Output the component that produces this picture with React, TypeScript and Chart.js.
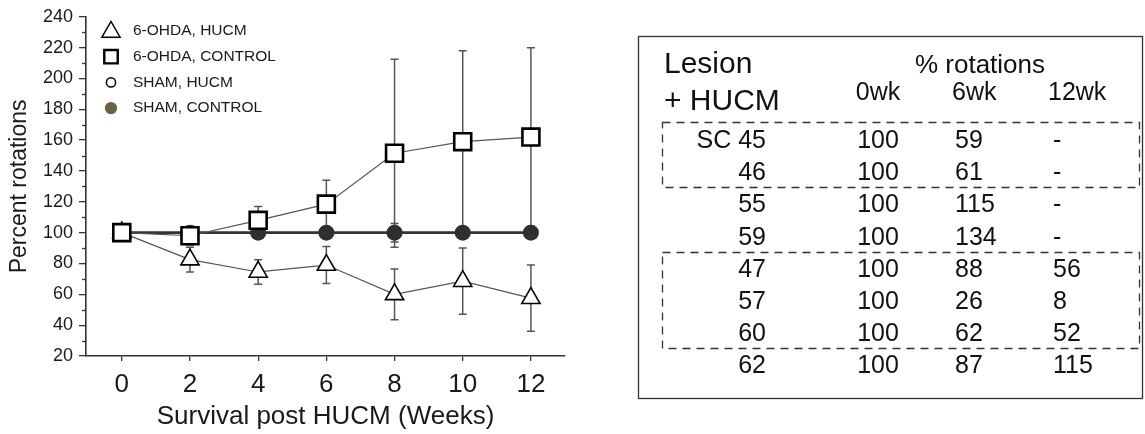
import React, { useEffect, useRef } from "react";
import { Chart, registerables } from "chart.js";

Chart.register(...registerables);

// ---------- chart data ----------
const weeks = [0, 2, 4, 6, 8, 10, 12];
const xTickValues = [0, 2, 4, 6, 8, 10, 12];
const yMinorTickValues = [30, 50, 70, 90, 110, 130, 150, 170, 190, 210, 230];

const seriesLabels = ["6-OHDA, HUCM", "6-OHDA, CONTROL", "SHAM, HUCM", "SHAM, CONTROL"];

const ohdaHucmMean = [100, 82.5, 74.5, 79, 60, 68.5, 57.5];
const ohdaHucmErr = [0, 8, 8, 12, 16.5, 21.5, 21.5];

const ohdaControlMean = [100, 98, 108, 118.5, 151.5, 159, 162];
const ohdaControlErr = [0, 6, 9, 15.5, 61, 59, 58];

const shamHucmMean = [100, 100, 100, 100, 100, 100, 100];
const shamHucmErr = [0, 2, 2, 2, 2, 2, 2];

const shamControlMean = [100, 100, 100, 100, 100, 100, 100];
const shamControlErr = [0, 2, 3, 2, 6, 2, 3];

// ---------- table data ----------
const tableTitleLeft = ["Lesion", "+ HUCM"];
const tableTitleRight = "% rotations";
const weekHeaders = ["0wk", "6wk", "12wk"];
const lesionIds = ["SC 45", "46", "55", "59", "47", "57", "60", "62"];
const rot0wk = ["100", "100", "100", "100", "100", "100", "100", "100"];
const rot6wk = ["59", "61", "115", "134", "88", "26", "62", "87"];
const rot12wk = ["-", "-", "-", "-", "56", "8", "52", "115"];

const FONT = "'Liberation Sans', Arial, Helvetica, sans-serif";

const toPts = (ys: number[]) => weeks.map((w, i) => ({ x: w, y: ys[i] }));

function drawMarker(ctx: CanvasRenderingContext2D, style: string, x: number, y: number, r: number, fill: string, stroke: string, lw: number) {
  ctx.save();
  ctx.fillStyle = fill;
  ctx.strokeStyle = stroke;
  ctx.lineWidth = lw;
  ctx.beginPath();
  if (style === "triangle") {
    ctx.moveTo(x, y - r);
    ctx.lineTo(x + r * 0.866, y + r * 0.5);
    ctx.lineTo(x - r * 0.866, y + r * 0.5);
    ctx.closePath();
  } else if (style === "rect") {
    const s = r * Math.SQRT2;
    ctx.rect(x - s / 2, y - s / 2, s, s);
  } else {
    ctx.arc(x, y, r, 0, Math.PI * 2);
  }
  ctx.fill();
  if (lw > 0) ctx.stroke();
  ctx.restore();
}

const errorBarPlugin = {
  id: "errorBars",
  beforeDatasetsDraw(chart: any) {
    const { ctx } = chart;
    const xs = chart.scales.x;
    const ys = chart.scales.y;
    chart.data.datasets.forEach((ds: any) => {
      const errs: number[] = ds.errors;
      if (!errs) return;
      ctx.save();
      ctx.strokeStyle = "#555";
      ctx.lineWidth = 1.5;
      ds.data.forEach((pt: any, j: number) => {
        const e = errs[j];
        if (!e) return;
        const px = xs.getPixelForValue(pt.x);
        const top = ys.getPixelForValue(pt.y + e);
        const bot = ys.getPixelForValue(pt.y - e);
        ctx.beginPath();
        ctx.moveTo(px, top);
        ctx.lineTo(px, bot);
        ctx.moveTo(px - 4, top);
        ctx.lineTo(px + 4, top);
        ctx.moveTo(px - 4, bot);
        ctx.lineTo(px + 4, bot);
        ctx.stroke();
      });
      ctx.restore();
    });
  },
};

const minorTickPlugin = {
  id: "minorTicks",
  afterDraw(chart: any) {
    const { ctx } = chart;
    const ys = chart.scales.y;
    ctx.save();
    ctx.strokeStyle = "#333";
    ctx.lineWidth = 1.3;
    yMinorTickValues.forEach((v) => {
      const py = Math.round(ys.getPixelForValue(v)) + 0.5;
      ctx.beginPath();
      ctx.moveTo(ys.right - 4, py);
      ctx.lineTo(ys.right, py);
      ctx.stroke();
    });
    ctx.restore();
  },
};

const legendPlugin = {
  id: "insideLegend",
  afterDraw(chart: any, _args: any, opts: any) {
    const { ctx } = chart;
    ctx.save();
    ctx.font = `15.5px ${FONT}`;
    ctx.textBaseline = "middle";
    chart.data.datasets.forEach((ds: any, i: number) => {
      const y = opts.y + i * opts.rowGap;
      const lg = ds.legendMarker;
      drawMarker(ctx, lg.style, opts.x, y + lg.dy, lg.r, lg.fill, lg.stroke, lg.lw);
      ctx.fillStyle = "#1a1a1a";
      ctx.fillText(ds.label, opts.textX, y);
    });
    ctx.restore();
  },
};

function ChartPanel() {
  const ref = useRef<HTMLCanvasElement | null>(null);
  useEffect(() => {
    if (!ref.current) return;
    const chart = new Chart(ref.current, {
      type: "line",
      data: {
        datasets: [
          {
            label: seriesLabels[0],
            data: toPts(ohdaHucmMean),
            errors: ohdaHucmErr,
            order: 1,
            borderColor: "#555",
            borderWidth: 1.2,
            pointStyle: "triangle",
            pointRadius: 10.5,
            pointBorderWidth: 1.6,
            pointBorderColor: "#000",
            pointBackgroundColor: "#fff",
            legendMarker: { style: "triangle", r: 10.5, dy: 1, fill: "#fff", stroke: "#000", lw: 1.5 },
          } as any,
          {
            label: seriesLabels[1],
            data: toPts(ohdaControlMean),
            errors: ohdaControlErr,
            order: 0,
            borderColor: "#555",
            borderWidth: 1.2,
            pointStyle: "rect",
            pointRadius: 12,
            pointBorderWidth: 2.6,
            pointBorderColor: "#000",
            pointBackgroundColor: "#fff",
            legendMarker: { style: "rect", r: 9.5, dy: 0, fill: "#fff", stroke: "#000", lw: 2.4 },
          } as any,
          {
            label: seriesLabels[2],
            data: toPts(shamHucmMean),
            errors: shamHucmErr,
            order: 3,
            borderColor: "#333",
            borderWidth: 2.5,
            pointStyle: "circle",
            pointRadius: 6,
            pointBorderWidth: 1.5,
            pointBorderColor: "#000",
            pointBackgroundColor: "#fff",
            legendMarker: { style: "circle", r: 4.6, dy: 0, fill: "#fff", stroke: "#000", lw: 1.5 },
          } as any,
          {
            label: seriesLabels[3],
            data: toPts(shamControlMean),
            errors: shamControlErr,
            order: 2,
            borderColor: "#333",
            borderWidth: 2.5,
            pointStyle: "circle",
            pointRadius: 8,
            pointBorderWidth: 0,
            pointBorderColor: "#2f2f2f",
            pointBackgroundColor: "#2f2f2f",
            legendMarker: { style: "circle", r: 6.2, dy: 0, fill: "#6b6246", stroke: "#6b6246", lw: 0 },
          } as any,
        ],
      },
      options: {
        animation: false,
        responsive: false,
        maintainAspectRatio: false,
        events: [],
        layout: { padding: { top: 15, right: 35, left: 0, bottom: 0 } },
        plugins: {
          legend: { display: false },
          tooltip: { enabled: false },
          insideLegend: { x: 111, textX: 133, y: 31, rowGap: 25.7 },
        } as any,
        scales: {
          x: {
            type: "linear",
            min: -1.05,
            max: 13,
            afterBuildTicks: (scale: any) => {
              scale.ticks = xTickValues.map((v) => ({ value: v }));
            },
            afterFit: (scale: any) => {
              scale.height = 78;
            },
            grid: { drawOnChartArea: false, tickLength: 5, color: "#333", lineWidth: 1.3 },
            border: { color: "#333", width: 1.6 },
            ticks: {
              font: { family: FONT, size: 26 },
              color: "#1a1a1a",
              padding: 8,
              autoSkip: false,
              maxRotation: 0,
            },
            title: {
              display: true,
              text: "Survival post HUCM (Weeks)",
              font: { family: FONT, size: 26 },
              color: "#1a1a1a",
              padding: { top: 0, bottom: 2 },
            },
          },
          y: {
            min: 20,
            max: 240,
            afterFit: (scale: any) => {
              scale.width = 86;
            },
            grid: { drawOnChartArea: false, tickLength: 7, color: "#333", lineWidth: 1.3 },
            border: { color: "#333", width: 1.6 },
            ticks: {
              stepSize: 20,
              font: { family: FONT, size: 18 },
              color: "#1a1a1a",
              padding: 6,
            },
            title: {
              display: true,
              text: "Percent rotations",
              font: { family: FONT, size: 23 },
              color: "#1a1a1a",
              padding: { top: 6, bottom: 0 },
            },
          },
        },
      } as any,
      plugins: [errorBarPlugin, minorTickPlugin, legendPlugin],
    });
    return () => chart.destroy();
  }, []);
  return (
    <canvas
      ref={ref}
      width={600}
      height={434}
      style={{ position: "absolute", left: 0, top: 0, width: 600, height: 434 }}
    />
  );
}

function RotationTable() {
  const rowY = (i: number) => 148 + i * 32.2;
  const txt = { fontFamily: FONT, fill: "#111" } as any;
  return (
    <svg
      width={1145}
      height={434}
      viewBox="0 0 1145 434"
      style={{ position: "absolute", left: 0, top: 0, pointerEvents: "none" }}
    >
      <rect x={638.5} y={36.5} width={504} height={362} fill="none" stroke="#333" strokeWidth={1.3} />
      <rect x={662.5} y={122.5} width={477} height={65} fill="none" stroke="#333" strokeWidth={1.3} strokeDasharray="8 6" />
      <rect x={662.5} y={252.5} width={477} height={96} fill="none" stroke="#333" strokeWidth={1.3} strokeDasharray="8 6" />
      <text x={664} y={73} fontSize={30} {...txt}>{tableTitleLeft[0]}</text>
      <text x={664} y={110} fontSize={30} {...txt}>{tableTitleLeft[1]}</text>
      <text x={980} y={73} fontSize={26} textAnchor="middle" {...txt}>{tableTitleRight}</text>
      <text x={878} y={100} fontSize={25} textAnchor="middle" {...txt}>{weekHeaders[0]}</text>
      <text x={952} y={100} fontSize={25} {...txt}>{weekHeaders[1]}</text>
      <text x={1048} y={100} fontSize={25} {...txt}>{weekHeaders[2]}</text>
      {lesionIds.map((id, i) => (
        <g key={id}>
          <text x={766} y={rowY(i)} fontSize={25} textAnchor="end" {...txt}>{id}</text>
          <text x={878} y={rowY(i)} fontSize={25} textAnchor="middle" {...txt}>{rot0wk[i]}</text>
          <text x={955} y={rowY(i)} fontSize={25} {...txt}>{rot6wk[i]}</text>
          <text x={1053} y={rowY(i)} fontSize={25} {...txt}>{rot12wk[i]}</text>
        </g>
      ))}
    </svg>
  );
}

export default function App() {
  return (
    <div
      style={{
        position: "fixed",
        left: 0,
        top: 0,
        width: 1145,
        height: 434,
        background: "#fff",
        overflow: "hidden",
      }}
    >
      <ChartPanel />
      <RotationTable />
    </div>
  );
}
